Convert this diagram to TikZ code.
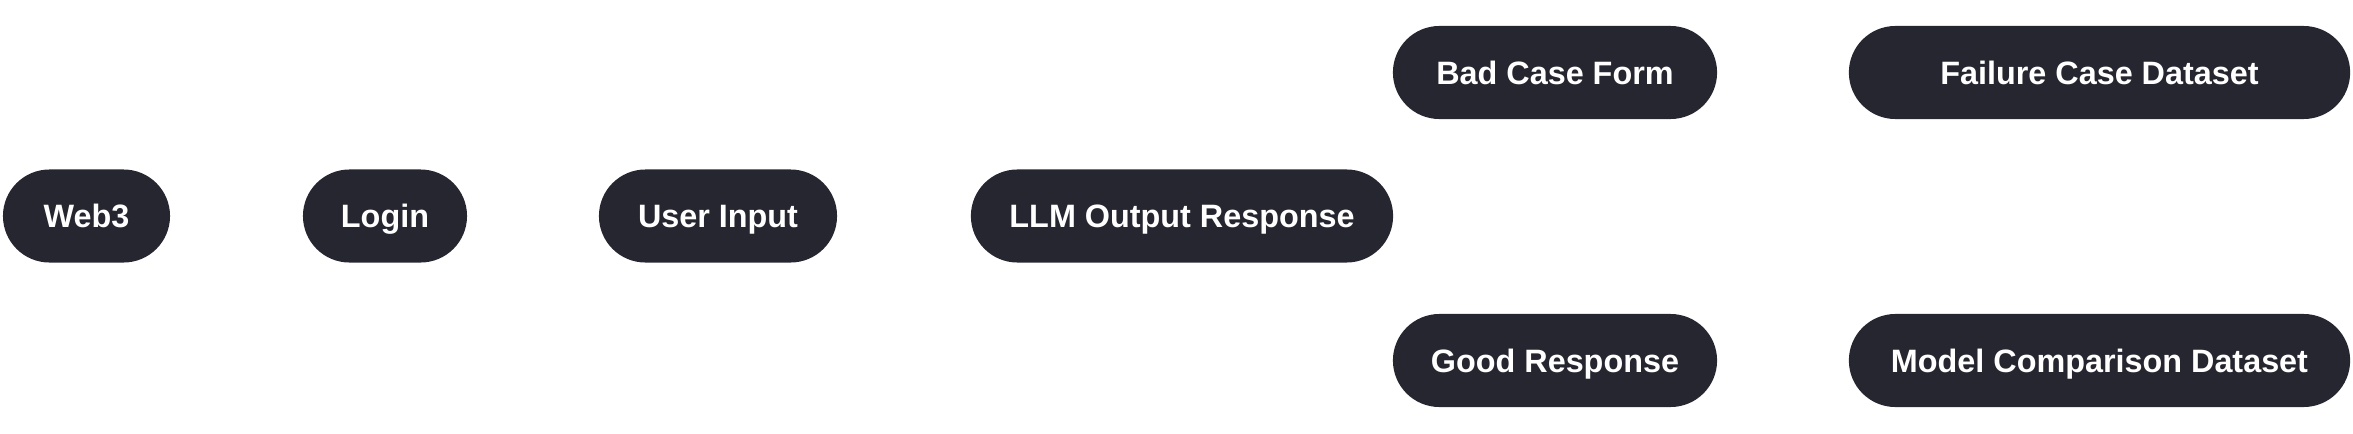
\documentclass[tikz,border=0pt]{standalone}
\usepackage{fontspec}
\setmainfont{Liberation Sans}
\definecolor{pillfill}{HTML}{262631}
\begin{document}
\begin{tikzpicture}[x=0.01cm,y=-0.01cm,
  pill/.style={fill=pillfill, text=white, rounded corners=0.465cm, minimum height=0.93cm, inner sep=0pt, text height=6.6pt, text depth=0pt, font=\fontsize{9.2}{11}\selectfont\bfseries, anchor=center}]
\useasboundingbox (0,0) rectangle (2353,433);
\node[pill, minimum width=1.67cm] (web3) at (86.5,216) {Web3};
\node[pill, minimum width=1.64cm] (login) at (385,216) {Login};
\node[pill, minimum width=2.38cm] (input) at (718,216) {User Input};
\node[pill, minimum width=4.22cm] (llm) at (1182,216) {LLM Output Response};
\node[pill, minimum width=3.24cm] (bad) at (1555,72.5) {Bad Case Form};
\node[pill, minimum width=3.24cm] (good) at (1555,360.5) {Good Response};
\node[pill, minimum width=5.01cm] (fail) at (2099.5,72.5) {Failure Case Dataset};
\node[pill, minimum width=5.01cm] (model) at (2099.5,360.5) {Model Comparison Dataset};
\end{tikzpicture}
\end{document}
